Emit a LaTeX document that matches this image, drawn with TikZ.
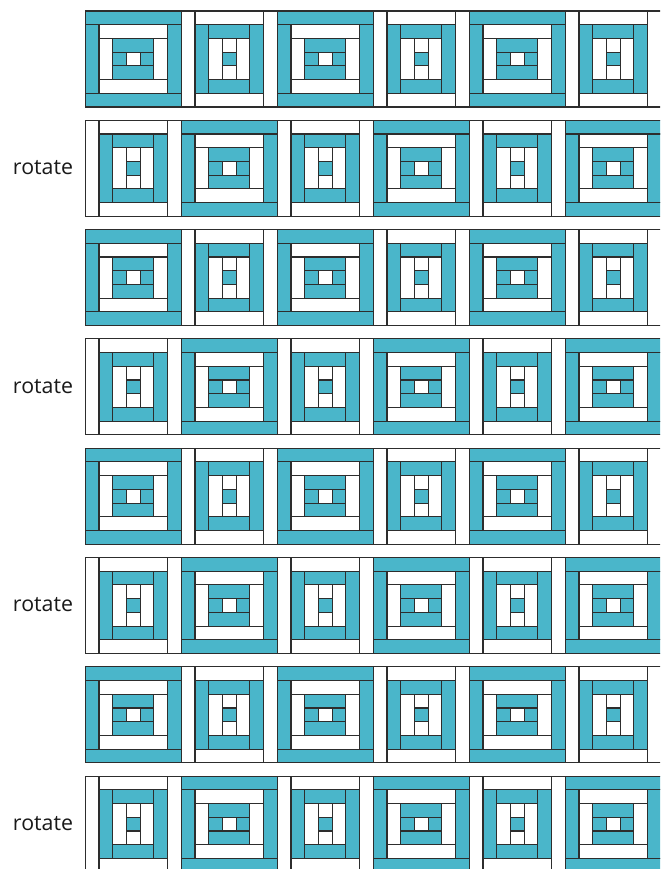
\documentclass[tikz,border=0pt]{standalone}
\usepackage{fontspec}
\setmainfont{Open Sans}
\definecolor{quiltteal}{RGB}{74,182,202}
\definecolor{seam}{RGB}{45,45,45}
\usetikzlibrary{positioning}

\begin{document}
\def\u{13.714}
\begin{tikzpicture}[x=0.03cm,y=-0.03cm,
  pc/.style={draw=seam,line width=0.95pt},
  lbl/.style={font=\fontsize{18.2}{21}\selectfont,text=black!90},
  % rings with full-width strips at top and bottom
  blockh/.pic={
    \foreach \k/\col in {0/quiltteal,1/white,2/quiltteal} {
      \filldraw[pc,fill=\col] (\k*\u,\k*\u) rectangle ({(7-\k)*\u},{(\k+1)*\u});
      \filldraw[pc,fill=\col] (\k*\u,{(6-\k)*\u}) rectangle ({(7-\k)*\u},{(7-\k)*\u});
      \filldraw[pc,fill=\col] (\k*\u,{(\k+1)*\u}) rectangle ({(\k+1)*\u},{(6-\k)*\u});
      \filldraw[pc,fill=\col] ({(6-\k)*\u},{(\k+1)*\u}) rectangle ({(7-\k)*\u},{(6-\k)*\u});
    }
    \filldraw[pc,fill=white] (3*\u,3*\u) rectangle (4*\u,4*\u);
  },
  % rings with full-height strips at the sides
  blockv/.pic={
    \foreach \k/\col in {0/white,1/quiltteal,2/white} {
      \filldraw[pc,fill=\col] (\k*\u,\k*\u) rectangle ({(\k+1)*\u},{(7-\k)*\u});
      \filldraw[pc,fill=\col] ({(6-\k)*\u},\k*\u) rectangle ({(7-\k)*\u},{(7-\k)*\u});
      \filldraw[pc,fill=\col] ({(\k+1)*\u},\k*\u) rectangle ({(6-\k)*\u},{(\k+1)*\u});
      \filldraw[pc,fill=\col] ({(\k+1)*\u},{(6-\k)*\u}) rectangle ({(6-\k)*\u},{(7-\k)*\u});
    }
    \filldraw[pc,fill=quiltteal] (3*\u,3*\u) rectangle (4*\u,4*\u);
  }]
  \useasboundingbox (0,0) rectangle (660,869);
  \fill[white] (0,0) rectangle (660,869);
  \clip (0,0) rectangle (660,869);
  % quilt rows
  \foreach \r in {0,...,7}
    \foreach \c in {0,...,5} {
      \pgfmathtruncatemacro\kind{mod(\r+\c,2)}
      \ifnum\kind=0
        \pic at (85.3+96*\c, 11+109.3*\r) {blockh};
      \else
        \pic at (85.3+96*\c, 11+109.3*\r) {blockv};
      \fi
    }
  % labels
  \foreach \r in {1,3,5,7}
    \node[lbl] (rot\r) at (43, 58.5+109.3*\r) {rotate};
\end{tikzpicture}
\end{document}
